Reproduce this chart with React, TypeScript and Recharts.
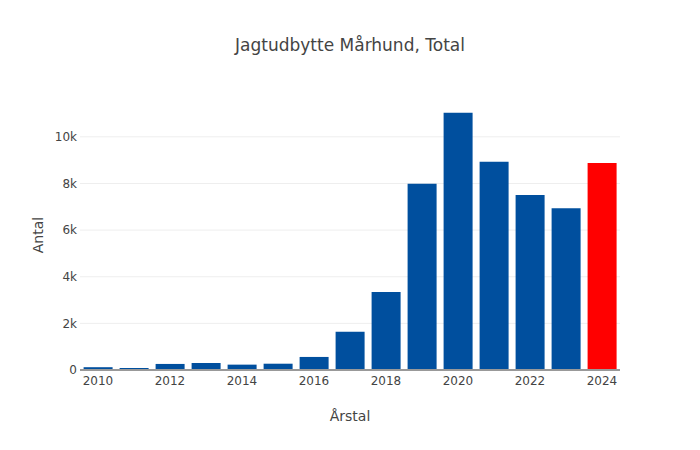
import React from 'react';
import { BarChart, Bar, XAxis, YAxis, CartesianGrid, Cell, Label } from 'recharts';

const years = ['2010','2011','2012','2013','2014','2015','2016','2017','2018','2019','2020','2021','2022','2023','2024'];
const antal = [120, 90, 260, 300, 230, 270, 560, 1640, 3345, 7990, 11030, 8935, 7510, 6940, 8880];
const barColors = ['#004f9e','#004f9e','#004f9e','#004f9e','#004f9e','#004f9e','#004f9e','#004f9e','#004f9e','#004f9e','#004f9e','#004f9e','#004f9e','#004f9e','#ff0000'];
const yTicks = [0, 2000, 4000, 6000, 8000, 10000];
const xTickLabels = ['2010','2012','2014','2016','2018','2020','2022','2024'];

const data = years.map((y, i) => ({ year: y, antal: antal[i] }));
const FONT = '"DejaVu Sans", Verdana, sans-serif';

export default function App() {
  return (
    <div style={{ position: 'absolute', left: 0, top: 0, width: 700, height: 450, background: '#fff', fontFamily: FONT }}>
      <div style={{ position: 'absolute', left: 0, top: 33, width: 700, textAlign: 'center', fontSize: 17, color: '#444', lineHeight: '24px' }}>
        Jagtudbytte Mårhund, Total
      </div>
      <BarChart width={700} height={450} data={data} margin={{ top: 100, right: 80, bottom: 0, left: 0 }} barCategoryGap="10%">
        <CartesianGrid vertical={false} stroke="#eeeeee" strokeWidth={1} horizontalValues={yTicks} />
        <XAxis
          dataKey="year"
          height={80}
          interval={0}
          tickLine={false}
          tickSize={0}
          tickMargin={6}
          axisLine={{ stroke: '#999999', strokeWidth: 2 }}
          tick={{ fill: '#444', fontSize: 12, fontFamily: FONT }}
          tickFormatter={(v: string) => (xTickLabels.includes(v) ? v : '')}
        >
          <Label
            content={() => (
              <text x={350} y={416} textAnchor="middle" dominantBaseline="central" fill="#444" fontSize={14} fontFamily={FONT}>
                Årstal
              </text>
            )}
          />
        </XAxis>
        <YAxis
          width={80}
          domain={[0, 11580]}
          ticks={yTicks}
          tickLine={false}
          tickSize={0}
          tickMargin={3}
          axisLine={false}
          tick={{ fill: '#444', fontSize: 12, fontFamily: FONT }}
          tickFormatter={(v: number) => (v === 0 ? '0' : `${v / 1000}k`)}
        >
          <Label
            content={() => (
              <text x={38} y={235} transform="rotate(-90, 38, 235)" textAnchor="middle" dominantBaseline="central" fill="#444" fontSize={14} fontFamily={FONT}>
                Antal
              </text>
            )}
          />
        </YAxis>
        <Bar dataKey="antal" isAnimationActive={false}>
          {data.map((d, i) => (
            <Cell key={d.year} fill={barColors[i]} />
          ))}
        </Bar>
      </BarChart>
    </div>
  );
}
